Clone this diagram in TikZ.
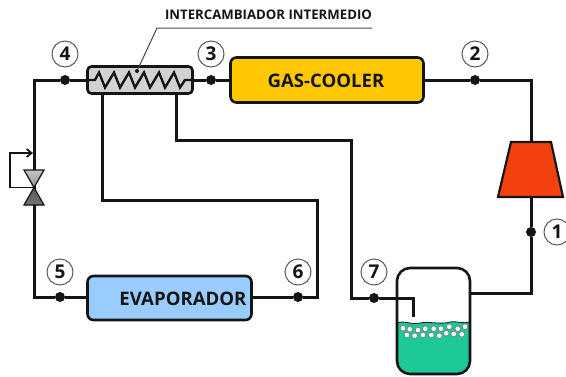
\documentclass[tikz,border=0pt]{standalone}
\usepackage{fontspec}
\usetikzlibrary{arrows.meta}
\setmainfont{Open Sans}
\definecolor{coolercol}{HTML}{FFC800}
\definecolor{evapcol}{HTML}{99CCFF}
\definecolor{compcol}{HTML}{F4420F}
\definecolor{hxcol}{HTML}{D2D2D2}
\definecolor{liqcol}{HTML}{1CC997}
\definecolor{inkcol}{HTML}{151515}
\tikzset{
    pipe/.style={draw=inkcol, line width=3pt, line join=miter},
    unitbox/.style={rectangle, draw=inkcol, line width=2.6pt, rounded corners=6pt, inner sep=0pt},
    unittext/.style={font=\bfseries\fontsize{18.6}{19}\selectfont, text=inkcol, inner sep=0pt},
    pipedot/.style={circle, fill=inkcol, inner sep=0pt, minimum size=10pt},
    statelabel/.style={circle, draw=inkcol!70, fill=white, line width=1pt, inner sep=0pt, minimum size=26pt, font=\bfseries\fontsize{19}{19}\selectfont, text=inkcol},
    bubble/.style={circle, draw=inkcol!60, fill=white, line width=0.6pt, inner sep=0pt, minimum size=5.6pt}
}
\begin{document}
\begin{tikzpicture}[x=1pt, y=-1pt]
    \useasboundingbox (0,0) rectangle (566,376);
    % pipe corners
    \coordinate (TL) at (34,80);
    \coordinate (BL) at (34,297);
    \coordinate (VC) at (34,187.5);
    \coordinate (TR) at (531,80);
    \coordinate (CT) at (531,142);
    \coordinate (CB) at (531,197);
    \coordinate (TO) at (531,293);
    \coordinate (TE) at (470,293);
    \coordinate (A1) at (102,200);
    \coordinate (A2) at (317,200);
    \coordinate (A3) at (317,297);
    \coordinate (B1) at (176,140);
    \coordinate (B2) at (351,140);
    \coordinate (B3) at (351,298);
    \coordinate (B4) at (413,298);
    \coordinate (B5) at (413,317);
    % units
    \node[unitbox, fill=hxcol, minimum width=105pt, minimum height=27pt, rounded corners=4pt] (HX) at (140,80) {};
    \node[unitbox, fill=coolercol, minimum width=193pt, minimum height=45pt] (GC) at (327,80) {};
    \node[unitbox, fill=evapcol, minimum width=164pt, minimum height=44pt] (EV) at (169.5,298) {};
    \node[unittext] (GCT) at (326,81) {GAS-COOLER};
    \node[unittext] (EVT) at (183,299) {EVAPORADOR};
    % state dots
    \node[pipedot] (P1) at (531,232) {};
    \node[pipedot] (P2) at (475,80) {};
    \node[pipedot] (P3) at (211,80) {};
    \node[pipedot] (P4) at (65,80) {};
    \node[pipedot] (P5) at (60,297) {};
    \node[pipedot] (P6) at (298,297) {};
    \node[pipedot] (P7) at (374,298) {};
    % pipes
    \draw[pipe] (HX.west) -- (P4) -- (TL) -- (VC) -- (BL) -- (P5) -- (EV.west |- P5);
    \draw[pipe] (HX.east) -- (P3) -- (GC.west);
    \draw[pipe] (GC.east) -- (P2) -- (TR) -- (CT);
    \draw[pipe] (CB) -- (P1) -- (TO) -- (TE);
    \draw[pipe] (EV.east |- P6) -- (P6) -- (A3) -- (A2) -- (A1) -- (A1 |- HX.south);
    \draw[pipe] (B1 |- HX.south) -- (B1) -- (B2) -- (B3) -- (P7) -- (B4) -- (B5);
    % tank
    \begin{scope}
        \clip[rounded corners=13pt] (397,268) rectangle (470,374);
        \fill[liqcol] (397,323) .. controls (405,320) and (410,325) .. (420,323) .. controls (430,321) and (440,325) .. (450,322) .. controls (458,321) and (463,324) .. (470,322) -- (470,374) -- (397,374) -- cycle;
    \end{scope}
    \draw[inkcol, line width=0.8pt] (397,323) .. controls (405,320) and (410,325) .. (420,323) .. controls (430,321) and (440,325) .. (450,322) .. controls (458,321) and (463,324) .. (470,322);
    \node[unitbox, minimum width=73pt, minimum height=106pt, rounded corners=13pt] (TK) at (433.5,321) {};
    \foreach \bx/\by [count=\bi] in {403/328.3, 409.7/329.3, 418/330, 425.3/328.7, 433.7/328.7, 441/328.7, 449.3/326.7, 457.7/328.7, 465/326.7, 407/335, 414.7/335.7, 423/335, 431.3/335, 439.3/335.7, 446.3/333.3, 453.7/334, 461.7/334.3}
        \node[bubble] (BB\bi) at (\bx,\by) {};
    % compressor
    \filldraw[fill=compcol, draw=inkcol, line width=2.2pt, line join=miter] (511,142) -- (551,142) -- (563,197) -- (498,197) -- cycle;
    % valve
    \draw[inkcol, line width=1.7pt, -{Straight Barb[length=5pt,width=8pt]}] (VC) -- (10,187.5) -- (10,153) -- (33,153);
    \filldraw[top color=gray!45, bottom color=gray!85, draw=inkcol, line width=1.2pt, line join=miter] (24,170) -- (44,170) -- (VC) -- cycle;
    \filldraw[top color=gray!130, bottom color=gray!90!black, draw=inkcol, line width=1.2pt, line join=miter] (VC) -- (44,205) -- (24,205) -- cycle;
    % exchanger coil
    \draw[inkcol, line width=2.4pt, line join=miter] (HX.west) -- (95,80) -- (99,72.5)
        \foreach \zk in {0,...,4} { -- ({105+15*\zk},87.5) -- ({114+15*\zk},72.5) } -- (180,87.5) -- (185,80) -- (HX.east);
    % callout
    \node[pipedot, minimum size=4pt] (HXP) at (137,71) {};
    \coordinate (LK) at (157,28);
    \coordinate (LE) at (372,28);
    \draw[inkcol!80, line width=1pt] (HXP) -- (LK) -- (LE);
    \node[font=\bfseries\fontsize{13.2}{14}\selectfont, text=inkcol] (HXT) at (268.5,14.5) {INTERCAMBIADOR INTERMEDIO};
    % state labels
    \node[statelabel] (L1) at (557,232) {1};
    \node[statelabel] (L2) at (475,54) {2};
    \node[statelabel] (L3) at (211,54) {3};
    \node[statelabel] (L4) at (65,54) {4};
    \node[statelabel] (L5) at (60,272) {5};
    \node[statelabel] (L6) at (298,272) {6};
    \node[statelabel] (L7) at (374,272) {7};
\end{tikzpicture}
\end{document}
